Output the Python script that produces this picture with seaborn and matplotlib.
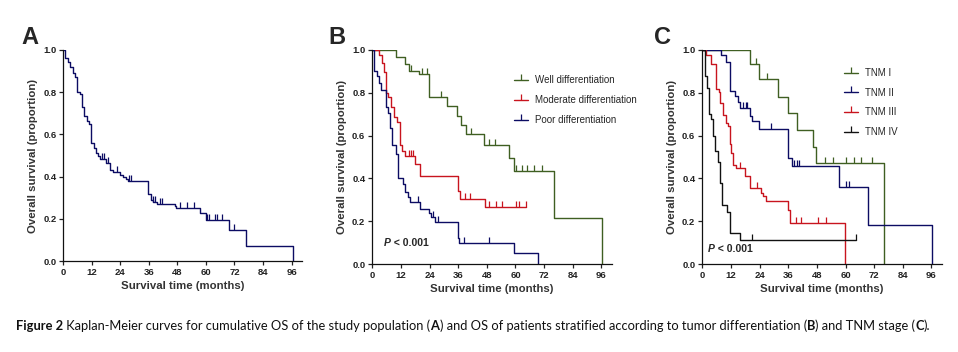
import numpy as np
import pandas as pd
import seaborn as sns
import matplotlib.pyplot as plt
from matplotlib.lines import Line2D

# ---- данные ----
# A: общая выживаемость всей выборки
a_t = [0, 0.7, 2.1, 3.0, 4.1, 4.9, 5.9, 7.2, 8.0, 8.9, 10.0, 10.7, 11.7, 12.8, 13.6, 14.5, 15.6, 18.0,
       19.7, 20.8, 23.9, 25.3, 26.4, 27.1, 35.8, 36.7, 37.9, 39.6, 46.8, 47.5, 57.6, 59.9, 69.6, 76.9, 96.6]
a_s = [1.0, 0.96, 0.94, 0.92, 0.89, 0.87, 0.80, 0.79, 0.73, 0.685, 0.665, 0.65, 0.557, 0.534, 0.51, 0.498,
       0.483, 0.466, 0.43, 0.424, 0.41, 0.40, 0.387, 0.379, 0.317, 0.288, 0.28, 0.269, 0.261, 0.25, 0.23,
       0.194, 0.146, 0.071, 0.0]
a_ct = [16.4, 17.3, 19.0, 22.5, 27.6, 28.6, 37.9, 38.7, 40.8, 41.6, 48.9, 52.0, 54.8, 60.5, 61.3, 64.0, 64.7, 66.6, 71.8]
a_cs = [0.483, 0.483, 0.466, 0.424, 0.379, 0.379, 0.28, 0.28, 0.269, 0.269, 0.25, 0.25, 0.25, 0.194, 0.194,
        0.194, 0.194, 0.194, 0.146]

# B: по степени дифференцировки
well_t = [0, 10.0, 13.7, 15.5, 19.7, 23.9, 31.5, 35.5, 37.2, 39.3, 46.8, 57.3, 59.4, 76.2, 96.1]
well_s = [1.0, 0.964, 0.933, 0.90, 0.885, 0.78, 0.738, 0.69, 0.648, 0.607, 0.554, 0.495, 0.433, 0.214, 0.0]
well_ct = [16.4, 20.8, 22.9, 28.9, 41.5, 48.8, 51.6, 60.4, 62.8, 64.7, 67.7, 71.2]
well_cs = [0.90, 0.885, 0.885, 0.78, 0.607, 0.554, 0.554, 0.433, 0.433, 0.433, 0.433, 0.433]

mod_t = [0, 2.8, 3.9, 4.9, 5.7, 6.7, 7.8, 8.9, 10.3, 11.5, 12.6, 13.9, 17.8, 19.8, 35.8, 36.8, 47.3, 64.5]
mod_s = [1.0, 0.975, 0.936, 0.894, 0.796, 0.778, 0.734, 0.687, 0.663, 0.557, 0.528, 0.504, 0.467, 0.41,
         0.343, 0.303, 0.265, 0.265]
mod_ct = [15.3, 16.1, 17.0, 39.0, 40.9, 48.7, 51.8, 54.5, 60.3, 61.5, 64.5]
mod_cs = [0.504, 0.504, 0.504, 0.303, 0.303, 0.265, 0.265, 0.265, 0.265, 0.265, 0.265]

poor_t = [0, 0.7, 2.1, 2.8, 3.7, 5.7, 6.7, 7.5, 8.3, 9.8, 10.8, 12.9, 13.7, 14.8, 15.7, 19.8, 23.6, 24.7,
          26.4, 35.8, 36.5, 59.5, 69.5]
poor_s = [1.0, 0.90, 0.877, 0.843, 0.81, 0.731, 0.703, 0.634, 0.556, 0.514, 0.404, 0.374, 0.339, 0.315,
          0.292, 0.258, 0.241, 0.222, 0.197, 0.121, 0.098, 0.051, 0.0]
poor_ct = [19.1, 25.5, 27.7, 38.6, 48.7]
poor_cs = [0.292, 0.222, 0.197, 0.098, 0.098]

# C: по стадии TNM
tnm1_t = [0, 20.0, 23.7, 31.8, 35.8, 39.7, 46.5, 47.6, 76.3]
tnm1_s = [1.0, 0.932, 0.862, 0.78, 0.706, 0.626, 0.548, 0.47, 0.0]
tnm1_ct = [16.8, 22.7, 27.3, 51.5, 54.8, 60.3, 63.5, 66.5, 71.2]
tnm1_cs = [1.0, 0.932, 0.862, 0.47, 0.47, 0.47, 0.47, 0.47, 0.47]

tnm2_t = [0, 7.9, 9.8, 11.5, 13.7, 15.0, 16.0, 20.1, 21.0, 23.7, 35.8, 37.6, 57.3, 69.5, 96.1]
tnm2_s = [1.0, 0.975, 0.944, 0.808, 0.784, 0.757, 0.727, 0.69, 0.667, 0.629, 0.494, 0.458, 0.361, 0.182, 0.0]
tnm2_ct = [17.1, 18.1, 18.9, 28.9, 38.6, 39.5, 40.7, 60.3, 61.5]
tnm2_cs = [0.727, 0.727, 0.727, 0.629, 0.458, 0.458, 0.458, 0.361, 0.361]

tnm3_t = [0, 1.5, 3.6, 5.7, 6.9, 7.6, 8.7, 10.1, 10.8, 11.5, 12.2, 12.9, 14.0, 17.8, 20.1, 24.7, 25.6,
          26.5, 35.8, 36.8, 59.6]
tnm3_s = [1.0, 0.975, 0.932, 0.815, 0.804, 0.75, 0.695, 0.657, 0.644, 0.559, 0.517, 0.462, 0.447, 0.411,
          0.354, 0.334, 0.318, 0.295, 0.253, 0.191, 0.0]
tnm3_ct = [15.7, 23.0, 39.3, 41.4, 48.3, 51.8]
tnm3_cs = [0.447, 0.354, 0.191, 0.191, 0.191, 0.191]

tnm4_t = [0, 1.1, 2.1, 2.8, 3.6, 4.3, 5.3, 6.4, 7.4, 8.3, 10.4, 11.5, 15.7, 64.5]
tnm4_s = [1.0, 0.877, 0.823, 0.699, 0.675, 0.598, 0.528, 0.475, 0.377, 0.276, 0.245, 0.144, 0.113, 0.113]
tnm4_ct = [21.0, 64.5]
tnm4_cs = [0.113, 0.113]

groups_b = ["Well differentiation", "Moderate differentiation", "Poor differentiation"]
groups_c = ["TNM I", "TNM II", "TNM III", "TNM IV"]
x_ticks = [0, 12, 24, 36, 48, 60, 72, 84, 96]
y_ticks = [0.0, 0.2, 0.4, 0.6, 0.8, 1.0]

navy = "#0c0c63"
green = "#3f5f22"
red = "#c8141e"
black = "#111111"

sns.set_style("ticks")
plt.rcParams["font.family"] = ["Liberation Sans", "DejaVu Sans"]

fig = plt.figure(figsize=(9.58, 3.52), dpi=100)
axA = fig.add_axes([0.0661, 0.2577, 0.2489, 0.601])
axB = fig.add_axes([0.3886, 0.2491, 0.2499, 0.6097])
axC = fig.add_axes([0.7331, 0.2491, 0.2499, 0.6097])


def km(ax, t, s, ct, cs, color, label=None):
    df = pd.DataFrame({"t": t, "s": s})
    sns.lineplot(data=df, x="t", y="s", ax=ax, color=color, lw=1.0, drawstyle="steps-post",
                 estimator=None, sort=False, legend=False)
    # цензурированные наблюдения — вертикальные засечки вверх
    ax.plot(ct, cs, linestyle="none", marker=2, ms=4, mew=0.9, color=color)
    return Line2D([], [], color=color, lw=1.0, marker=2, ms=4, mew=0.9, label=label)


def style(ax, letter, x_letter):
    ax.set_xlim(0, 100.3)
    ax.set_ylim(0, 1.0)
    ax.set_xticks(x_ticks)
    ax.set_yticks(y_ticks)
    ax.set_yticklabels([f"{v:.1f}" for v in y_ticks])
    ax.tick_params(labelsize=6.8, length=3, width=0.9, pad=2, colors="#222222")
    for lab in ax.get_xticklabels() + ax.get_yticklabels():
        lab.set_fontweight("bold")
    sns.despine(ax=ax)
    for sp in ["left", "bottom"]:
        ax.spines[sp].set_linewidth(0.9)
        ax.spines[sp].set_color("#111111")
    ax.set_xlabel("Survival time (months)", fontsize=8.2, fontweight="bold", labelpad=3, color="#333333")
    ax.set_ylabel("Overall survival (proportion)", fontsize=8.2, fontweight="bold", labelpad=4, color="#333333")
    fig.text(x_letter, 0.861, letter, fontsize=17, fontweight="bold", ha="left", va="bottom")


def p_value(ax, x, y):
    ptxt = ax.text(x, y, "P", fontsize=7.5, fontweight="bold", style="italic", va="center")
    ax.annotate(" < 0.001", xy=(1, 0), xycoords=ptxt, va="bottom", fontsize=7.5, fontweight="bold")


# A
km(axA, a_t, a_s, a_ct, a_cs, navy)
style(axA, "A", 0.022)

# B
hb = [km(axB, well_t, well_s, well_ct, well_cs, green, groups_b[0]),
      km(axB, mod_t, mod_s, mod_ct, mod_cs, red, groups_b[1]),
      km(axB, poor_t, poor_s, poor_ct, poor_cs, navy, groups_b[2])]
style(axB, "B", 0.343)
axB.legend(handles=hb, loc="upper left", bbox_to_anchor=(0.59, 0.882), frameon=False, fontsize=7,
           handlelength=1.5, handletextpad=0.7, labelspacing=1.05, borderpad=0, borderaxespad=0)
p_value(axB, 5, 0.10)

# C
hc = [km(axC, tnm1_t, tnm1_s, tnm1_ct, tnm1_cs, green, groups_c[0]),
      km(axC, tnm2_t, tnm2_s, tnm2_ct, tnm2_cs, navy, groups_c[1]),
      km(axC, tnm3_t, tnm3_s, tnm3_ct, tnm3_cs, red, groups_c[2]),
      km(axC, tnm4_t, tnm4_s, tnm4_ct, tnm4_cs, black, groups_c[3])]
style(axC, "C", 0.683)
axC.legend(handles=hc, loc="upper left", bbox_to_anchor=(0.59, 0.915), frameon=False, fontsize=7,
           handlelength=1.5, handletextpad=0.7, labelspacing=1.0, borderpad=0, borderaxespad=0)
p_value(axC, 2.5, 0.07)

# подпись к рисунку: части идут подряд по одной базовой линии
cap_y = 0.062
cap_size = 9.3
cap_font = ["Lato", "DejaVu Sans"]
parts = [("Figure 2", "bold"),
         (" Kaplan-Meier curves for cumulative OS of the study population (", "normal"), ("A", "bold"),
         (") and OS of patients stratified according to tumor differentiation (", "normal"), ("B", "bold"),
         (") and TNM stage (", "normal"), ("C", "bold"), (").", "normal")]
prev = fig.text(0.017, cap_y, parts[0][0], fontsize=cap_size, fontweight=parts[0][1], family=cap_font,
                va="baseline", color="#111111")
for txt, w in parts[1:]:
    prev = axC.annotate(txt, xy=(1, cap_y), xycoords=(prev, "figure fraction"), va="baseline",
                        fontsize=cap_size, fontweight=w, family=cap_font, color="#111111")

plt.savefig("out.png", dpi=100)
